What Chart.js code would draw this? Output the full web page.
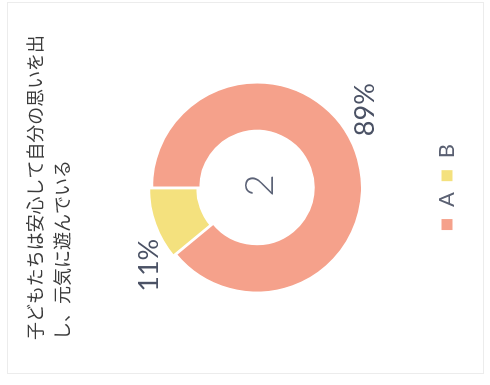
<!DOCTYPE html>
<html>
<head>
<meta charset="utf-8">
<script src="https://cdn.jsdelivr.net/npm/chart.js@4.4.1/dist/chart.umd.min.js"></script>
<style>
  html, body { margin: 0; padding: 0; background: #fff; overflow: hidden; }
  body { width: 490px; height: 385px; position: relative; }
  /* the card is laid out upright and turned a quarter turn to the left */
  #page {
    position: absolute; left: 0; top: 0;
    width: 385px; height: 490px;
    transform-origin: 0 0;
    transform: translate(0, 385px) rotate(-90deg);
  }
  #card {
    position: absolute; left: 11px; top: 7px;
    width: 372px; height: 477px;
    border: 1px solid #ececec;
    box-sizing: border-box;
  }
  #chart { position: absolute; left: 0; top: 0; }
</style>
</head>
<body>
<div id="page">
  <div id="card"></div>
  <canvas id="chart" width="385" height="490"></canvas>
</div>
<script>
const titleLines = ['子どもたちは安心して自分の思いを出', 'し、元気に遊んでいる'];
const categories = ['A', 'B'];
const shares = [89, 11];
const centerText = '2';

/* -----------------------------
   Percent labels + centre number
------------------------------ */
const sliceLabels = {
  id: 'sliceLabels',
  afterDatasetsDraw(chart, args, opts) {
    const ctx = chart.ctx;
    const arcs = chart.getDatasetMeta(0).data;
    const total = shares.reduce((a, b) => a + b, 0);
    const shift = opts.angleShift * Math.PI / 180;

    ctx.save();
    ctx.textAlign = 'center';
    ctx.textBaseline = 'middle';
    ctx.fillStyle = '#4b5265';
    ctx.font = '27px Lato, "Liberation Sans", sans-serif';
    arcs.forEach((arc, i) => {
      const mid = (arc.startAngle + arc.endAngle) / 2 + shift;
      const r = arc.outerRadius + opts.gap;
      const pct = Math.round(shares[i] / total * 100) + '%';
      ctx.fillText(pct, arc.x + Math.cos(mid) * r, arc.y + Math.sin(mid) * r);
    });

    // number in the hole
    ctx.fillStyle = '#5c6377';
    ctx.font = '300 39px Lato, "Liberation Sans", sans-serif';
    ctx.fillText(centerText, arcs[0].x + 2, arcs[0].y + 3);
    ctx.restore();
  }
};

const chart = new Chart(document.getElementById('chart'), {
  type: 'doughnut',
  data: {
    labels: categories,
    datasets: [{
      data: shares,
      backgroundColor: ['#f5a18b', '#f4e17e'],
      borderColor: '#ffffff',
      borderWidth: 2,
      offset: [0, 9]
    }]
  },
  options: {
    responsive: false,
    animation: false,
    radius: 105,
    cutout: '54%',
    layout: { padding: { left: 45, right: 35, top: 0, bottom: 22 } },
    plugins: {
      title: {
        display: true,
        text: titleLines,
        align: 'start',
        color: '#3b3b3b',
        font: { family: '"Noto Sans CJK JP", sans-serif', size: 18, weight: 'normal', lineHeight: 1.5 },
        padding: { top: 22, bottom: 12 }
      },
      legend: {
        position: 'bottom',
        labels: {
          boxWidth: 13,
          boxHeight: 13,
          padding: 10,
          color: '#5a6072',
          font: { family: 'Lato, "Liberation Sans", sans-serif', size: 22 }
        }
      },
      tooltip: { enabled: false },
      sliceLabels: { angleShift: -16, gap: 28 }
    }
  },
  plugins: [sliceLabels]
});
</script>
</body>
</html>
